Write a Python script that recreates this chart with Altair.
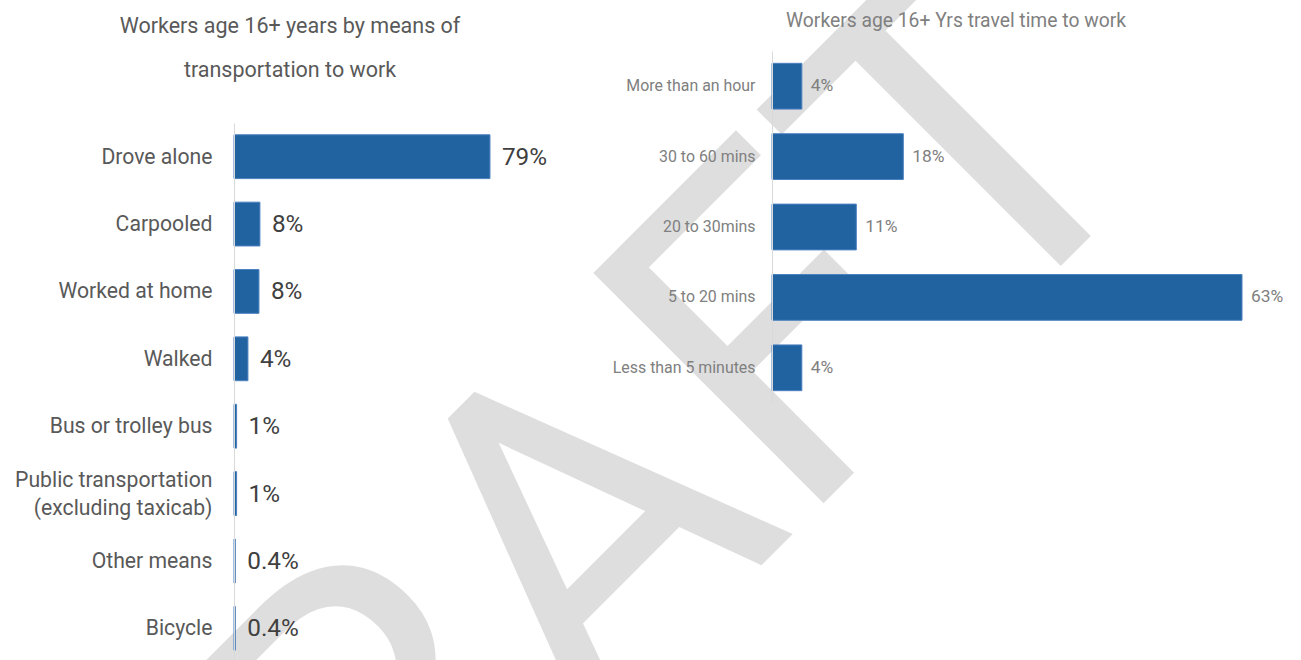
import altair as alt
import pandas as pd

# ---------------- data ----------------
modes = [
    "Drove alone",
    "Carpooled",
    "Worked at home",
    "Walked",
    "Bus or trolley bus",
    "Public transportation|(excluding taxicab)",
    "Other means",
    "Bicycle",
]
mode_values = [79, 8, 7.7, 4.3, 0.8, 0.8, 0.4, 0.4]
mode_labels = ["79%", "8%", "8%", "4%", "1%", "1%", "0.4%", "0.4%"]

times = [
    "More than an hour",
    "30 to 60 mins",
    "20 to 30mins",
    "5 to 20 mins",
    "Less than 5 minutes",
]
time_values = [4, 17.6, 11.3, 63, 4]
time_labels = ["4%", "18%", "11%", "63%", "4%"]

title_left = ["Workers age 16+ years by means of", "transportation to work"]
title_right = "Workers age 16+ Yrs travel time to work"
watermark = "DRAFT"

# ---------------- style ----------------
FONT = "Roboto"
BAR = "#2162a0"
BAR_EDGE = "#4b80c0"

left_df = pd.DataFrame({"mode": modes, "pct": mode_values, "label": mode_labels})
right_df = pd.DataFrame({"time": times, "pct": time_values, "label": time_labels})
one = pd.DataFrame({"k": [0]})

# watermark (behind everything)
wm = alt.Chart(one).mark_text(
    text=watermark, font=FONT, fontSize=458, angle=315,
    align="center", baseline="middle", color="#dedede",
).encode(x=alt.value(576), y=alt.value(557))

# titles
t_left = alt.Chart(one).mark_text(
    text=title_left, font=FONT, fontSize=21.5, lineHeight=44,
    align="center", baseline="alphabetic", color="#595959",
).encode(x=alt.value(290), y=alt.value(33))

t_right = alt.Chart(one).mark_text(
    text=title_right, font=FONT, fontSize=19.3,
    align="center", baseline="alphabetic", color="#808080",
).encode(x=alt.value(956), y=alt.value(27))

# left panel
xL = alt.X("pct:Q", scale=alt.Scale(domain=[0, 100], range=[234, 558], nice=False), axis=None)
yL = alt.Y(
    "mode:N", sort=modes,
    scale=alt.Scale(range=[123, 662], paddingInner=0.35, paddingOuter=0.175),
    axis=alt.Axis(
        orient="left", offset=-234, title=None, ticks=False, grid=False,
        domainColor="#d9d9d9", domainWidth=1, zindex=1,
        labelFont=FONT, labelFontSize=21.2, labelColor="#595959",
        labelPadding=22, labelLineHeight=28, labelLimit=500,
        labelExpr="split(datum.label, '|')",
        labelOffset={"condition": {"test": "indexof(datum.value, '|') >= 0", "value": -13}, "value": 1},
    ),
)
barsL = alt.Chart(left_df).mark_bar(color=BAR, stroke=BAR_EDGE, strokeWidth=1).encode(x=xL, y=yL)
textL = alt.Chart(left_df).mark_text(
    align="left", baseline="middle", dx=12, dy=1, font=FONT, fontSize=24.3, color="#404040"
).encode(x=xL, y=yL, text="label:N")
left = alt.layer(barsL, textL)

# right panel
xR = alt.X("pct:Q", scale=alt.Scale(domain=[0, 63], range=[772, 1242], nice=False), axis=None)
yR = alt.Y(
    "time:N", sort=times,
    scale=alt.Scale(range=[51, 403], paddingInner=0.35, paddingOuter=0.175),
    axis=alt.Axis(
        orient="left", offset=-772, title=None, ticks=False, grid=False,
        domainColor="#d9d9d9", domainWidth=1, zindex=1,
        labelFont=FONT, labelFontSize=15.9, labelColor="#808080",
        labelPadding=17, labelLimit=500,
    ),
)
barsR = alt.Chart(right_df).mark_bar(color=BAR, stroke=BAR_EDGE, strokeWidth=1).encode(x=xR, y=yR)
textR = alt.Chart(right_df).mark_text(
    align="left", baseline="middle", dx=9, font=FONT, fontSize=17.4, color="#808080"
).encode(x=xR, y=yR, text="label:N")
right = alt.layer(barsR, textR)

chart = (
    alt.layer(wm, t_left, t_right, left, right)
    .resolve_scale(x="independent", y="independent")
    .properties(
        width=1301, height=660, padding=0,
        autosize=alt.AutoSizeParams(type="none"),
        background="white",
    )
    .configure_view(stroke=None)
)

chart.save("out.html", embed_options={"renderer": "svg", "actions": False})
